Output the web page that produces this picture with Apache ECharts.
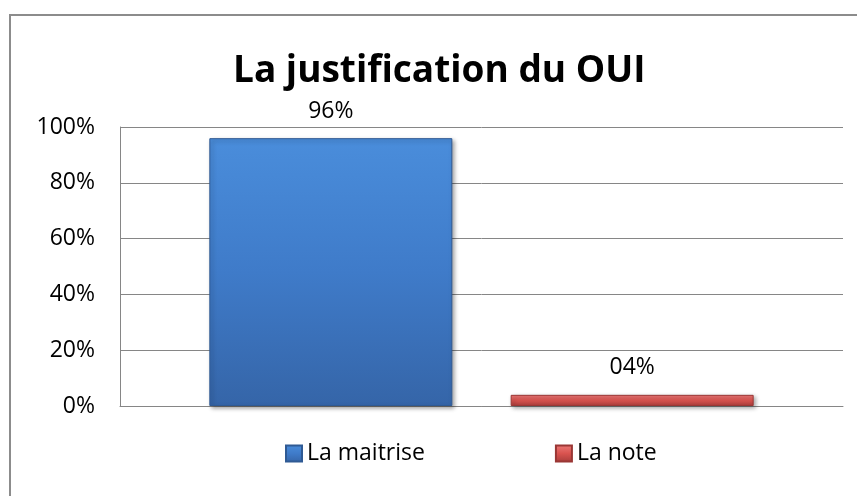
<!DOCTYPE html>
<html>
<head>
<meta charset="utf-8">
<script src="https://cdn.jsdelivr.net/npm/echarts@6/dist/echarts.min.js"></script>
<style>
  html, body { margin: 0; padding: 0; background: #fff; }
  #chart { width: 857px; height: 496px; }
</style>
</head>
<body>
<div id="chart"></div>
<script>
// chart data
const titleText = 'La justification du OUI'
const categories = ['']
const seriesNames = ['La maitrise', 'La note']
const maitriseData = [96]
const noteData = [4]

const chart = echarts.init(document.getElementById('chart'))
const font = 'Open Sans'

function pctLabel(p) {
  return String(p.value).padStart(2, '0') + '%'
}

function grad(c0, c1, c2) {
  return new echarts.graphic.LinearGradient(0, 0, 0, 1, [
    { offset: 0, color: c0 },
    { offset: 0.5, color: c1 },
    { offset: 1, color: c2 }
  ])
}

chart.setOption({
  backgroundColor: '#fff',
  animation: false,
  graphic: [{
    type: 'rect',
    shape: { x: 10, y: 15, width: 900, height: 600 },
    style: { fill: 'none', stroke: '#8c8c8c', lineWidth: 2 },
    z: -1
  }],
  title: {
    text: titleText,
    left: 228,
    top: 48,
    textStyle: { fontFamily: font, fontSize: 37, fontWeight: 'bold', color: '#000' }
  },
  legend: {
    data: seriesNames,
    left: 280,
    top: 437,
    itemWidth: 16,
    itemHeight: 16,
    itemGap: 130,
    icon: 'rect',
    textStyle: { fontFamily: font, fontSize: 23, color: '#000' }
  },
  grid: {
    left: 120,
    right: 14,
    top: 127,
    bottom: 90,
    containLabel: false,
    outerBoundsMode: 'none'
  },
  xAxis: {
    type: 'category',
    data: categories,
    axisLine: { show: true, lineStyle: { color: '#868686' } },
    axisTick: { show: false },
    axisLabel: { show: false }
  },
  yAxis: {
    type: 'value',
    min: 0,
    max: 100,
    interval: 20,
    axisLine: { show: true, lineStyle: { color: '#868686' } },
    axisTick: { show: false },
    axisLabel: {
      formatter: '{value}%',
      margin: 25,
      fontFamily: font,
      fontSize: 23,
      color: '#000'
    },
    splitLine: { lineStyle: { color: '#868686' } }
  },
  series: [
    {
      name: seriesNames[0],
      type: 'bar',
      barWidth: 243,
      barGap: '24%',
      data: maitriseData,
      itemStyle: {
        color: grad('#4a8ddb', '#3f7bc9', '#3565a8'),
        borderColor: '#2f5a94',
        borderWidth: 1,
        shadowColor: 'rgba(0,0,0,0.35)',
        shadowBlur: 4,
        shadowOffsetX: 2,
        shadowOffsetY: 2
      },
      label: {
        show: true,
        position: 'top',
        distance: 15,
        formatter: pctLabel,
        fontFamily: font,
        fontSize: 23,
        color: '#000'
      }
    },
    {
      name: seriesNames[1],
      type: 'bar',
      barWidth: 243,
      barGap: '24%',
      data: noteData,
      itemStyle: {
        color: grad('#ec7a78', '#d9534f', '#a83c3a'),
        borderColor: '#9a3735',
        borderWidth: 1,
        shadowColor: 'rgba(0,0,0,0.35)',
        shadowBlur: 4,
        shadowOffsetX: 2,
        shadowOffsetY: 2
      },
      label: {
        show: true,
        position: 'top',
        distance: 16,
        formatter: pctLabel,
        fontFamily: font,
        fontSize: 23,
        color: '#000'
      }
    }
  ]
})
</script>
</body>
</html>
